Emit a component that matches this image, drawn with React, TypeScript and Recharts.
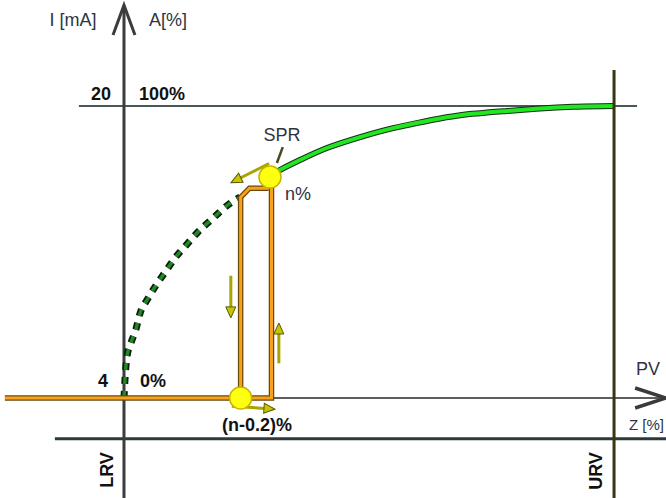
import { ComposedChart, Line, Scatter, XAxis, YAxis } from 'recharts'

const W = 666
const H = 498
// x in PV [%], y in current [mA]
const X_MIN = -25.3
const X_MAX = 110.6
const Y_MIN = -1.48
const Y_MAX = 25.81

// square-root part that is skipped (dashed)
const flowLow = [
  { x: 0, y: 4 },
  { x: 0.2, y: 5.0 },
  { x: 0.6, y: 6.25 },
  { x: 1.4, y: 7.0 },
  { x: 2.4, y: 7.73 },
  { x: 3.3, y: 8.66 },
  { x: 4.7, y: 9.37 },
  { x: 6.3, y: 10.08 },
  { x: 8.4, y: 10.9 },
  { x: 10.4, y: 11.67 },
  { x: 12.7, y: 12.38 },
  { x: 15.1, y: 13.1 },
  { x: 18.2, y: 13.86 },
  { x: 21.2, y: 14.58 },
  { x: 23.7, y: 15.01 },
]

// active part above the switching point
const flowHigh = [
  { x: 29.8, y: 16.11 },
  { x: 31.8, y: 16.49 },
  { x: 35.9, y: 17.04 },
  { x: 41.4, y: 17.7 },
  { x: 48.2, y: 18.3 },
  { x: 54.9, y: 18.79 },
  { x: 61.8, y: 19.18 },
  { x: 68.6, y: 19.5 },
  { x: 78.2, y: 19.73 },
  { x: 84.9, y: 19.87 },
  { x: 91.6, y: 19.96 },
  { x: 100, y: 20 },
]

// hysteresis loop
const rising = [
  { x: -24.3, y: 4 },
  { x: 30.1, y: 4 },
  { x: 30.1, y: 16.0 },
]
const falling = [
  { x: 29.5, y: 15.5 },
  { x: 25.6, y: 15.5 },
  { x: 23.8, y: 15.0 },
  { x: 23.8, y: 4 },
]

const switchOn = [{ x: 29.8, y: 16.11 }]
const switchOff = [{ x: 23.8, y: 4 }]

const arrows = [
  [{ x: 21.8, y: 10.7 }, { x: 21.8, y: 8.5 }],
  [{ x: 31.6, y: 5.9 }, { x: 31.6, y: 8.0 }],
  [{ x: 29.6, y: 16.85 }, { x: 22.2, y: 15.85 }],
  [{ x: 22.0, y: 3.55 }, { x: 30.4, y: 3.4 }],
]

const sprPointer = [{ x: 32.4, y: 17.75 }, { x: 31.2, y: 16.88 }]

// frame
const yAxisLine = [{ x: 0, y: Y_MIN }, { x: 0, y: 25.5 }]
const yAxisHead = [{ x: -2.24, y: 23.89 }, { x: 0, y: 25.53 }, { x: 2.24, y: 23.89 }]
const pvAxisLine = [{ x: 0, y: 4 }, { x: X_MAX, y: 4 }]
const pvAxisHead = [{ x: 104.3, y: 4.55 }, { x: 110.6, y: 4 }, { x: 104.3, y: 3.45 }]
const topLine = [{ x: -9.2, y: 20 }, { x: 104.7, y: 20 }]
const zLine = [{ x: -14.1, y: 1.77 }, { x: X_MAX, y: 1.77 }]
const urvLine = [{ x: 100, y: Y_MIN }, { x: 100, y: 21.97 }]

const PX_X = W / (X_MAX - X_MIN)
const PX_Y = H / (Y_MAX - Y_MIN)

const ArrowHead = (props: any) => {
  const { cx, cy, index, points, payload } = props
  const last = points ? points.length - 1 : 1
  if (index !== last || cx == null) return <g key={`h-${index}`} />
  let dx = 1
  let dy = 0
  if (points && points[index - 1]) {
    dx = cx - points[index - 1].x
    dy = cy - points[index - 1].y
  } else if (payload && payload.prev) {
    dx = (payload.x - payload.prev.x) * PX_X
    dy = -(payload.y - payload.prev.y) * PX_Y
  }
  const a = (Math.atan2(dy, dx) * 180) / Math.PI
  return (
    <polygon
      key={`h-${index}`}
      points="2,0 -9,-5 -9,5"
      transform={`translate(${cx},${cy}) rotate(${a})`}
      fill="#c8c400"
      stroke="#5c5a00"
      strokeWidth={1}
    />
  )
}

const Knob = (props: any) => (
  <circle cx={props.cx} cy={props.cy} r={11} fill="#ffff10" stroke="#c6b400" strokeWidth={1.5} />
)

const line = (key: string, data: any[], stroke: string, width: number, extra: any = {}) => (
  <Line
    key={key}
    data={data}
    dataKey="y"
    type="linear"
    stroke={stroke}
    strokeWidth={width}
    dot={false}
    activeDot={false}
    isAnimationActive={false}
    {...extra}
  />
)

const txt = { fontFamily: 'Liberation Sans, Arial, sans-serif', fontSize: 18 }

export default function App() {
  return (
    <div style={{ position: 'absolute', left: 0, top: 0, width: W, height: H, background: '#fff' }}>
      <ComposedChart width={W} height={H} margin={{ top: 0, right: 0, bottom: 0, left: 0 }}>
        <XAxis type="number" dataKey="x" domain={[X_MIN, X_MAX]} allowDataOverflow hide />
        <YAxis type="number" dataKey="y" domain={[Y_MIN, Y_MAX]} allowDataOverflow hide />

        {line('top', topLine, '#4a5858', 2)}
        {line('z', zLine, '#2c3a3a', 3)}
        {line('pv', pvAxisLine, '#5e5e58', 2)}
        {line('pvHead', pvAxisHead, '#3a3a3a', 3.5)}
        {line('yAxis', yAxisLine, '#3c3c3c', 3)}
        {line('yHead', yAxisHead, '#3c3c3c', 3)}

        {line('lowOut', flowLow, '#0a1a0a', 7, { type: 'monotone', strokeDasharray: '7 7' })}
        {line('low', flowLow, '#1f8a22', 3.5, { type: 'monotone', strokeDasharray: '7 7' })}
        {line('highOut', flowHigh, '#163016', 6, { type: 'natural' })}
        {line('high', flowHigh, '#22e622', 4, { type: 'natural' })}

        {line('urv', urvLine, '#3a3410', 3)}

        {line('riseOut', rising, '#6a4808', 5.5)}
        {line('rise', rising, '#f7a21a', 3)}
        {line('fallOut', falling, '#6a4808', 5.5)}
        {line('fall', falling, '#f7a21a', 3)}

        {line('spr', sprPointer, '#4a4820', 2.5)}
        {arrows.map((a, i) =>
          line(`arrow-${i}`, a.map((p, j) => (j > 0 ? { ...p, prev: a[j - 1] } : p)), '#a8a400', 3, {
            dot: ArrowHead,
          })
        )}

        <Scatter data={switchOn} dataKey="y" shape={Knob} isAnimationActive={false} />
        <Scatter data={switchOff} dataKey="y" shape={Knob} isAnimationActive={false} />

        <g style={txt}>
          <text x={73} y={20} textAnchor="middle" dominantBaseline="central" fill="#2e3442">I [mA]</text>
          <text x={168} y={20} textAnchor="middle" dominantBaseline="central" fill="#2e3442">A[%]</text>
          <text x={101} y={94} textAnchor="middle" dominantBaseline="central" fill="#111" fontWeight="bold">20</text>
          <text x={162} y={94} textAnchor="middle" dominantBaseline="central" fill="#111" fontWeight="bold">100%</text>
          <text x={103} y={381} textAnchor="middle" dominantBaseline="central" fill="#111" fontWeight="bold">4</text>
          <text x={153} y={381} textAnchor="middle" dominantBaseline="central" fill="#111" fontWeight="bold">0%</text>
          <text x={282} y={135} textAnchor="middle" dominantBaseline="central" fill="#2e3442">SPR</text>
          <text x={298} y={194} textAnchor="middle" dominantBaseline="central" fill="#2e3442">n%</text>
          <text x={257} y={425} textAnchor="middle" dominantBaseline="central" fill="#111" fontWeight="bold">(n-0.2)%</text>
          <text x={648} y={369} textAnchor="middle" dominantBaseline="central" fill="#2e3442">PV</text>
          <text x={664} y={424} textAnchor="end" dominantBaseline="central" fill="#2e3442" fontSize={15}>Z [%]</text>
          <text x={107} y={470} textAnchor="middle" dominantBaseline="central" fill="#111" fontWeight="bold" transform="rotate(-90 107 470)">LRV</text>
          <text x={596} y={471} textAnchor="middle" dominantBaseline="central" fill="#111" fontWeight="bold" transform="rotate(-90 596 471)">URV</text>
        </g>
      </ComposedChart>
    </div>
  )
}
